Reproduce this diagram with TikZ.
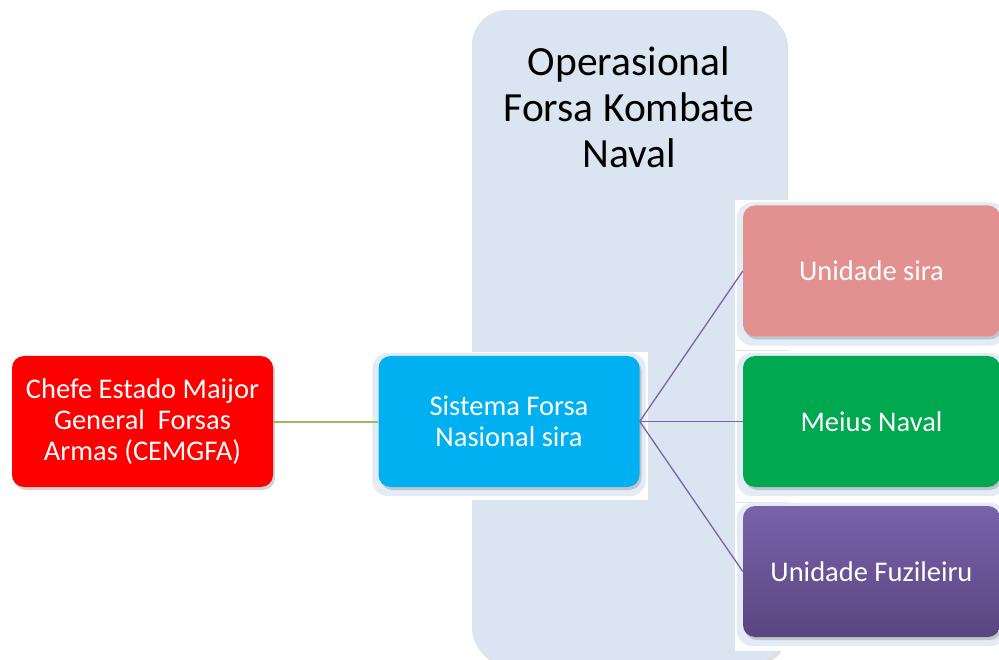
\documentclass[tikz,border=0pt]{standalone}
\usepackage{fontspec}
\setmainfont{Carlito}
\usetikzlibrary{shadows,backgrounds}

\definecolor{opbg}{HTML}{DBE5F1}
\definecolor{halo}{HTML}{E3EBF5}
\definecolor{chefered}{HTML}{FF0000}
\definecolor{sistemablue}{HTML}{00B0F0}
\definecolor{unidadepink}{HTML}{E29190}
\definecolor{meiusgreen}{HTML}{00A850}
\definecolor{fuzitop}{HTML}{7A62AA}
\definecolor{fuzibottom}{HTML}{5B4580}
\definecolor{olivelink}{RGB}{155,187,89}
\definecolor{linkpurple}{HTML}{7B63A3}

\begin{document}
\begin{tikzpicture}[x=1pt,y=-1pt,
    box/.style={rounded corners=12pt, text=white, align=center, inner sep=0pt,
      font=\fontsize{28.5}{31}\selectfont, minimum width=261pt, minimum height=131pt,
      drop shadow={shadow xshift=2pt, shadow yshift=-3pt, opacity=0.35}},
    frame/.style={fill=white},
    halobox/.style={fill=halo, rounded corners=16pt},
    greenlink/.style={draw=olivelink, line width=2pt},
    purplelink/.style={draw=linkpurple, line width=1.3pt}]
  \useasboundingbox (0,0) rectangle (999,660);

  % Заголовок
  \node[align=center, font=\fontsize{41.5}{46}\selectfont] (oper) at (629,107)
    {Operasional\\Forsa Kombate\\Naval};

  % Блоки
  \node[box, fill=chefered] (chefe) at (142.5,421.5)
    {Chefe Estado Maijor\\General\ \ Forsas\\Armas (CEMGFA)};
  \node[box, fill=sistemablue] (sistema) at (509,421.5)
    {Sistema Forsa\\Nasional sira};
  \node[box, fill=unidadepink, minimum width=257pt] (unidade) at (871.5,271)
    {Unidade sira};
  \node[box, fill=meiusgreen, minimum width=257pt] (meius) at (871.5,421.5)
    {Meius Naval};
  \node[box, top color=fuzitop, bottom color=fuzibottom, minimum width=257pt] (fuzileiru) at (871.5,571.5)
    {Unidade Fuzileiru};

  % Фон: операционный блок, рамки и ореолы
  \begin{pgfonlayer}{background}
    \fill[opbg, rounded corners=35pt, drop shadow={shadow xshift=2pt, shadow yshift=-3pt, opacity=0.25}]
      (472,10) rectangle (786,663);
    \fill[frame] (469,352) rectangle (648,500);
    \fill[frame] (735,200) rectangle (1005,350.5);
    \fill[frame] (735,351.5) rectangle (1005,501.5);
    \fill[frame] (735,502.5) rectangle (1005,651);
    \foreach \b in {sistema,unidade,meius,fuzileiru}
      \fill[halobox] ([shift={(-6,-3)}]\b.north west) rectangle ([shift={(6,9)}]\b.south east);
  \end{pgfonlayer}

  % Линии связи
  \draw[greenlink] (chefe.east) -- (sistema.west);
  \draw[purplelink] (sistema.east) -- (unidade.west);
  \draw[purplelink] (sistema.east) -- (meius.west);
  \draw[purplelink] (sistema.east) -- (fuzileiru.west);
\end{tikzpicture}
\end{document}
